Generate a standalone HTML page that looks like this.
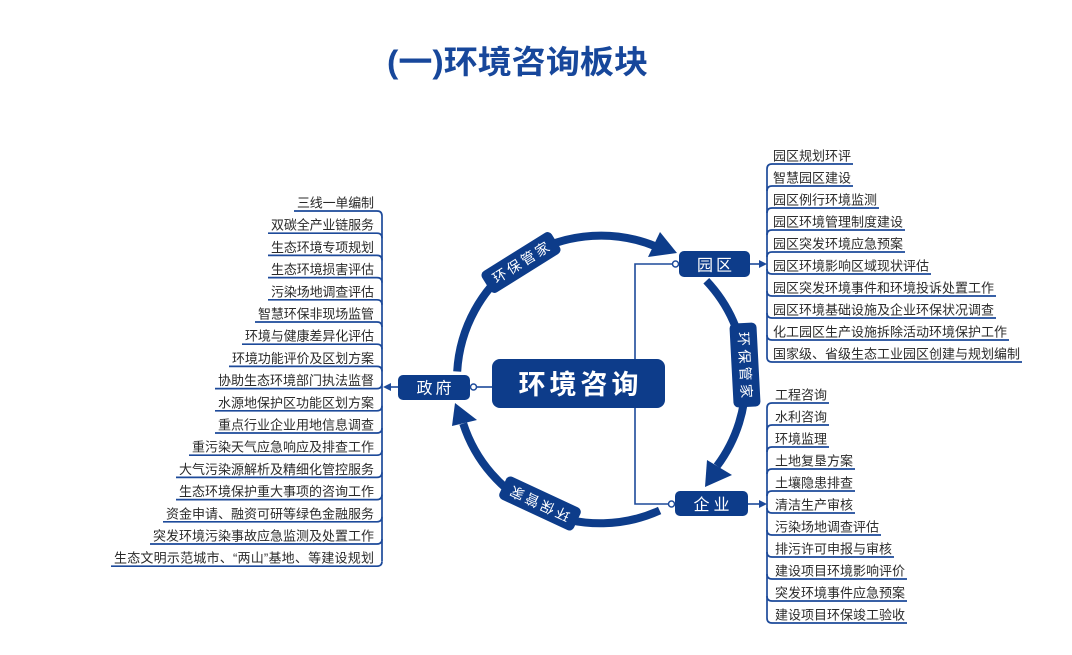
<!DOCTYPE html>
<html><head><meta charset="utf-8">
<style>
html,body{margin:0;padding:0;background:#fff;}
svg{display:block;}
text{font-family:"Liberation Sans","Noto Sans CJK SC",sans-serif;}
.it{font-size:13px;fill:#2a2a2a;}
.ln{fill:none;stroke:#1d4a9a;stroke-width:1.7;}
.wt{fill:#fff;}
</style></head>
<body>
<svg width="1072" height="655" viewBox="0 0 1072 655" xmlns="http://www.w3.org/2000/svg">
<rect width="1072" height="655" fill="#fff"/>
<!-- title -->
<text x="387" y="73" font-size="32" font-weight="bold" fill="#17479b" textLength="261" lengthAdjust="spacingAndGlyphs">(一)环境咨询板块</text>

<!-- arcs -->
<g fill="none" stroke="#0d3c8a" stroke-width="8">
<path d="M457.2,371.5 A144,144 0 0 1 655.4,246.3"/>
<path d="M706.3,280.8 A144,144 0 0 1 717,466"/>
<path d="M659.6,510.5 A144,144 0 0 1 463.2,423.5"/>
</g>
<g fill="#0d3c8a">
<polygon points="677,253 660,232 648,257"/>
<polygon points="705,487 707,460 732,475"/>
<polygon points="455,403 452,426 477,420"/>
</g>
<!-- arc labels -->
<g transform="translate(521,262.5) rotate(-32)">
<rect x="-41" y="-12.5" width="82" height="25" rx="5" fill="#0d3c8a"/>
<text x="0" y="5" font-size="14" class="wt" text-anchor="middle" textLength="64">环保管家</text>
</g>
<g transform="translate(745,365) rotate(87)">
<rect x="-42" y="-13.5" width="84" height="27" rx="5" fill="#0d3c8a"/>
<text x="0" y="5" font-size="14" class="wt" text-anchor="middle" textLength="66">环保管家</text>
</g>
<g transform="translate(540,503.5) rotate(205)">
<rect x="-41" y="-12.5" width="82" height="25" rx="5" fill="#0d3c8a"/>
<text x="0" y="5" font-size="14" class="wt" text-anchor="middle" textLength="64">环保管家</text>
</g>

<!-- connectors -->
<g fill="none" stroke="#1d4a9a" stroke-width="1.6">
<path d="M672.5,264 H635 V359"/>
<path d="M635,408 V504 H668.5"/>
<path d="M492,387 H476.5"/>
<path d="M398,387 H390"/>
<path d="M750,264 H760"/>
<path d="M748,504 H760"/>
</g>
<g fill="#fff" stroke="#1d4a9a" stroke-width="1.5">
<circle cx="675.5" cy="264" r="3"/>
<circle cx="671.5" cy="504" r="3"/>
<circle cx="473.5" cy="387" r="3"/>
</g>
<g fill="#1d4a9a">
<polygon points="383,387 391,383 391,391"/>
<polygon points="767,264 759,260 759,268"/>
<polygon points="767,504 759,500 759,508"/>
</g>

<!-- boxes -->
<rect x="492" y="359" width="173" height="49" rx="8" fill="#0d3c8a"/>
<text x="578.5" y="394" font-size="27" font-weight="bold" class="wt" text-anchor="middle" textLength="120">环境咨询</text>
<rect x="398" y="375" width="72" height="25" rx="5" fill="#0d3c8a"/>
<text x="434" y="393.5" font-size="16" class="wt" text-anchor="middle" textLength="35">政府</text>
<rect x="679" y="251" width="71" height="26" rx="5" fill="#0d3c8a"/>
<text x="714.5" y="270.5" font-size="16" class="wt" text-anchor="middle" textLength="35">园区</text>
<rect x="675" y="491" width="73" height="25" rx="5" fill="#0d3c8a"/>
<text x="711.5" y="510" font-size="16" class="wt" text-anchor="middle" textLength="36">企业</text>

<!-- left list -->
<path class="ln" d="M382,216 V561"/>
<g class="ln">
<path d="M294,211 H377 Q382,211 382,216"/>
<path d="M268,233.2 H377 Q382,233.2 382,238.2"/>
<path d="M268,255.4 H377 Q382,255.4 382,260.4"/>
<path d="M268,277.6 H377 Q382,277.6 382,282.6"/>
<path d="M268,299.8 H377 Q382,299.8 382,304.8"/>
<path d="M255,322 H377 Q382,322 382,327"/>
<path d="M242,344.2 H377 Q382,344.2 382,349.2"/>
<path d="M229,366.4 H377 Q382,366.4 382,371.4"/>
<path d="M215,388.6 H377 Q382,388.6 382,383.6"/>
<path d="M215,410.8 H377 Q382,410.8 382,405.8"/>
<path d="M215,433 H377 Q382,433 382,428"/>
<path d="M189,455.2 H377 Q382,455.2 382,450.2"/>
<path d="M176,477.4 H377 Q382,477.4 382,472.4"/>
<path d="M176,499.6 H377 Q382,499.6 382,494.6"/>
<path d="M163,521.8 H377 Q382,521.8 382,516.8"/>
<path d="M150,544 H377 Q382,544 382,539"/>
<path d="M111,566.2 H377 Q382,566.2 382,561.2"/>
</g>
<g class="it" text-anchor="end">
<text x="374" y="207.5" textLength="77">三线一单编制</text>
<text x="374" y="229.7" textLength="103">双碳全产业链服务</text>
<text x="374" y="251.9" textLength="103">生态环境专项规划</text>
<text x="374" y="274.1" textLength="103">生态环境损害评估</text>
<text x="374" y="296.3" textLength="103">污染场地调查评估</text>
<text x="374" y="318.5" textLength="116">智慧环保非现场监管</text>
<text x="374" y="340.7" textLength="129">环境与健康差异化评估</text>
<text x="374" y="362.9" textLength="142">环境功能评价及区划方案</text>
<text x="374" y="385.1" textLength="156">协助生态环境部门执法监督</text>
<text x="374" y="407.3" textLength="156">水源地保护区功能区划方案</text>
<text x="374" y="429.5" textLength="156">重点行业企业用地信息调查</text>
<text x="374" y="451.7" textLength="182">重污染天气应急响应及排查工作</text>
<text x="374" y="473.9" textLength="195">大气污染源解析及精细化管控服务</text>
<text x="374" y="496.1" textLength="195">生态环境保护重大事项的咨询工作</text>
<text x="374" y="518.3" textLength="208">资金申请、融资可研等绿色金融服务</text>
<text x="374" y="540.5" textLength="221">突发环境污染事故应急监测及处置工作</text>
<text x="374" y="562.7" textLength="260">生态文明示范城市、“两山”基地、等建设规划</text>
</g>

<!-- right upper list -->
<path class="ln" d="M767,169 V357"/>
<g class="ln">
<path d="M767,169 Q767,164 772,164 H853"/>
<path d="M767,191 Q767,186 772,186 H853"/>
<path d="M767,213 Q767,208 772,208 H879"/>
<path d="M767,235 Q767,230 772,230 H905"/>
<path d="M767,257 Q767,252 772,252 H905"/>
<path d="M767,269 Q767,274 772,274 H931"/>
<path d="M767,291 Q767,296 772,296 H996"/>
<path d="M767,313 Q767,318 772,318 H996"/>
<path d="M767,335 Q767,340 772,340 H1009"/>
<path d="M767,357 Q767,362 772,362 H1022"/>
</g>
<g class="it">
<text x="773" y="160.5" textLength="78">园区规划环评</text>
<text x="773" y="182.5" textLength="78">智慧园区建设</text>
<text x="773" y="204.5" textLength="104">园区例行环境监测</text>
<text x="773" y="226.5" textLength="130">园区环境管理制度建设</text>
<text x="773" y="248.5" textLength="130">园区突发环境应急预案</text>
<text x="773" y="270.5" textLength="156">园区环境影响区域现状评估</text>
<text x="773" y="292.5" textLength="221">园区突发环境事件和环境投诉处置工作</text>
<text x="773" y="314.5" textLength="221">园区环境基础设施及企业环保状况调查</text>
<text x="773" y="336.5" textLength="234">化工园区生产设施拆除活动环境保护工作</text>
<text x="773" y="358.5" textLength="247">国家级、省级生态工业园区创建与规划编制</text>
</g>

<!-- right lower list -->
<path class="ln" d="M767,408 V618"/>
<g class="ln">
<path d="M767,408 Q767,403 772,403 H829"/>
<path d="M767,430 Q767,425 772,425 H829"/>
<path d="M767,452 Q767,447 772,447 H829"/>
<path d="M767,474 Q767,469 772,469 H855"/>
<path d="M767,496 Q767,491 772,491 H855"/>
<path d="M767,508 Q767,513 772,513 H855"/>
<path d="M767,530 Q767,535 772,535 H881"/>
<path d="M767,552 Q767,557 772,557 H894"/>
<path d="M767,574 Q767,579 772,579 H907"/>
<path d="M767,596 Q767,601 772,601 H907"/>
<path d="M767,618 Q767,623 772,623 H907"/>
</g>
<g class="it">
<text x="775" y="399.5" textLength="52">工程咨询</text>
<text x="775" y="421.5" textLength="52">水利咨询</text>
<text x="775" y="443.5" textLength="52">环境监理</text>
<text x="775" y="465.5" textLength="78">土地复垦方案</text>
<text x="775" y="487.5" textLength="78">土壤隐患排查</text>
<text x="775" y="509.5" textLength="78">清洁生产审核</text>
<text x="775" y="531.5" textLength="104">污染场地调查评估</text>
<text x="775" y="553.5" textLength="117">排污许可申报与审核</text>
<text x="775" y="575.5" textLength="130">建设项目环境影响评价</text>
<text x="775" y="597.5" textLength="130">突发环境事件应急预案</text>
<text x="775" y="619.5" textLength="130">建设项目环保竣工验收</text>
</g>
</svg>
</body></html>
